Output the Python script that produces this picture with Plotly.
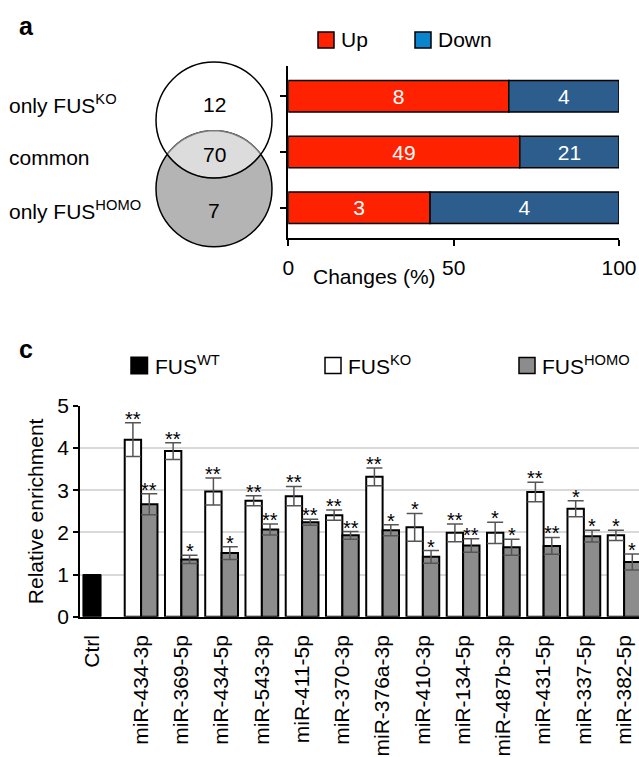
import numpy as np
import plotly.graph_objects as go

# ---------------- data ----------------
# panel a
venn_labels = ["only FUS<sup>KO</sup>", "common", "only FUS<sup>HOMO</sup>"]
venn_counts = [12, 70, 7]
up_counts = [8, 49, 3]
down_counts = [4, 21, 4]
x_ticks_a = [0, 50, 100]

# panel c
ctrl_label = "Ctrl"
ctrl_value = [1.0]
mirnas = ["miR-434-3p", "miR-369-5p", "miR-434-5p", "miR-543-3p", "miR-411-5p",
          "miR-370-3p", "miR-376a-3p", "miR-410-3p", "miR-134-5p", "miR-487b-3p",
          "miR-431-5p", "miR-337-5p", "miR-382-5p"]
ko_values = [4.20, 3.93, 2.97, 2.75, 2.86, 2.41, 3.32, 2.12, 1.99, 1.99, 2.96, 2.56, 1.93]
ko_err = [0.40, 0.20, 0.32, 0.12, 0.23, 0.12, 0.21, 0.33, 0.21, 0.25, 0.23, 0.19, 0.12]
homo_values = [2.67, 1.36, 1.51, 2.07, 2.24, 1.93, 2.05, 1.42, 1.69, 1.65, 1.68, 1.91, 1.30]
homo_err = [0.25, 0.10, 0.15, 0.13, 0.07, 0.09, 0.13, 0.15, 0.16, 0.19, 0.20, 0.14, 0.19]
ko_sig = ["**", "**", "**", "**", "**", "**", "**", "*", "**", "*", "**", "*", "*"]
homo_sig = ["**", "*", "*", "**", "**", "**", "*", "*", "**", "*", "**", "*", "*"]
y_ticks_c = [0, 1, 2, 3, 4, 5]

# ---------------- layout helpers ----------------
W, H = 639, 757
FONT = "Liberation Sans, Arial, Helvetica, sans-serif"
RED = "#ff2200"
BLUE = "#2c5d8c"
BLUE_LEG = "#0a84cc"
GRAY = "#8c8c8c"


def PX(px):
    return px / W


def PY(py):
    return 1 - py / H


fig = go.Figure()

# ---------- panel a: stacked percentage bars ----------
totals = [u + d for u, d in zip(up_counts, down_counts)]
up_pct = [100 * u / t for u, t in zip(up_counts, totals)]
down_pct = [100 * d / t for d, t in zip(down_counts, totals)]
rows = list(range(len(up_counts)))

fig.add_trace(go.Bar(
    y=rows, x=up_pct, base=[0] * len(rows), orientation="h", width=0.565,
    marker=dict(color=RED, line=dict(color="black", width=1.5)),
    text=[str(v) for v in up_counts], textposition="inside", insidetextanchor="middle",
    textangle=0, textfont=dict(color="white", size=21, family=FONT),
    xaxis="x", yaxis="y", showlegend=False, hoverinfo="skip"))
fig.add_trace(go.Bar(
    y=rows, x=down_pct, base=up_pct, orientation="h", width=0.565,
    marker=dict(color=BLUE, line=dict(color="black", width=1.5)),
    text=[str(v) for v in down_counts], textposition="inside", insidetextanchor="middle",
    textangle=0, textfont=dict(color="white", size=21, family=FONT),
    xaxis="x", yaxis="y", showlegend=False, hoverinfo="skip"))

# ---------- panel c: grouped bars ----------
ctrl_gap = 1.22
bar_w = 0.407
ctrl_x = [0.0]
mir_x = [ctrl_gap + i for i in range(len(mirnas))]

fig.add_trace(go.Bar(
    x=ctrl_x, y=ctrl_value, width=0.45, offset=-0.225,
    marker=dict(color="black", line=dict(color="black", width=1)),
    xaxis="x2", yaxis="y2", showlegend=False, hoverinfo="skip"))
fig.add_trace(go.Bar(
    x=mir_x, y=ko_values, width=bar_w, offset=-bar_w,
    marker=dict(color="white", line=dict(color="black", width=2)),
    error_y=dict(type="data", array=ko_err, color="#555555", thickness=1.5, width=8),
    xaxis="x2", yaxis="y2", showlegend=False, hoverinfo="skip"))
fig.add_trace(go.Bar(
    x=mir_x, y=homo_values, width=bar_w, offset=0,
    marker=dict(color=GRAY, line=dict(color="black", width=2)),
    error_y=dict(type="data", array=homo_err, color="#555555", thickness=1.5, width=8),
    xaxis="x2", yaxis="y2", showlegend=False, hoverinfo="skip"))

# invisible trace to anchor the venn axes
fig.add_trace(go.Scatter(x=[0], y=[0], mode="markers", marker=dict(opacity=0),
                         xaxis="x3", yaxis="y3", showlegend=False, hoverinfo="skip"))

annotations = []
shapes = []

# significance stars
for xs, vals, errs, sig, dx in [(mir_x, ko_values, ko_err, ko_sig, -bar_w / 2),
                                (mir_x, homo_values, homo_err, homo_sig, bar_w / 2)]:
    for x, v, e, s in zip(xs, vals, errs, sig):
        annotations.append(dict(x=x + dx, y=v + e, xref="x2", yref="y2", text=s,
                                showarrow=False, yanchor="bottom", yshift=-9,
                                font=dict(size=20, family=FONT, color="black")))

# ---------- venn diagram (unit circles) ----------
r = 1.0
a = 0.592
shapes.append(dict(type="circle", xref="x3", yref="y3", x0=-r, x1=r, y0=-a - r, y1=-a + r,
                   fillcolor="#b4b4b4", line=dict(color="black", width=1.5), layer="above"))
t0 = np.arcsin(a / r)
t = np.linspace(t0, np.pi - t0, 60)
upper = [(r * np.cos(tt), -a + r * np.sin(tt)) for tt in t]
lower = [(r * np.cos(tt), a - r * np.sin(tt)) for tt in t[::-1]]
pts = upper + lower
path = "M " + " L ".join(f"{px:.4f},{py:.4f}" for px, py in pts) + " Z"
shapes.append(dict(type="path", xref="x3", yref="y3", path=path, fillcolor="#dcdcdc",
                   line=dict(color="#7a7a7a", width=1.5), layer="above"))
shapes.append(dict(type="circle", xref="x3", yref="y3", x0=-r, x1=r, y0=a - r, y1=a + r,
                   fillcolor="rgba(0,0,0,0)", line=dict(color="black", width=1.5), layer="above"))

venn_text_y = [0.868, 0.0, -0.96]
for cnt, ty in zip(venn_counts, venn_text_y):
    annotations.append(dict(x=0, y=ty, xref="x3", yref="y3", text=str(cnt), showarrow=False,
                            font=dict(size=21, family=FONT, color="black")))
label_py = [104, 157, 210]
for lab, py in zip(venn_labels, label_py):
    annotations.append(dict(x=PX(7), y=PY(py), xref="paper", yref="paper", text=lab,
                            showarrow=False, xanchor="left", yanchor="middle",
                            font=dict(size=21, family=FONT, color="black")))

# panel letters
annotations.append(dict(x=PX(17), y=PY(26), xref="paper", yref="paper", text="<b>a</b>",
                        showarrow=False, xanchor="left", yanchor="middle",
                        font=dict(size=25, family=FONT, color="black")))
annotations.append(dict(x=PX(17), y=PY(349), xref="paper", yref="paper", text="<b>c</b>",
                        showarrow=False, xanchor="left", yanchor="middle",
                        font=dict(size=25, family=FONT, color="black")))

# panel a x title
annotations.append(dict(x=PX(374), y=PY(276), xref="paper", yref="paper", text="Changes (%)",
                        showarrow=False, xanchor="center", yanchor="middle",
                        font=dict(size=21, family=FONT, color="black")))

# legends (manual)
def legend_item(x0, yc, size, fill, text, border=1.5):
    shapes.append(dict(type="rect", xref="paper", yref="paper",
                       x0=PX(x0), x1=PX(x0 + size), y0=PY(yc + size / 2), y1=PY(yc - size / 2),
                       fillcolor=fill, line=dict(color="black", width=border), layer="above"))
    annotations.append(dict(x=PX(x0 + size + 5), y=PY(yc), xref="paper", yref="paper",
                            text=text, showarrow=False, xanchor="left", yanchor="middle",
                            font=dict(size=21, family=FONT, color="black")))

legend_item(318, 40, 16, RED, "Up")
legend_item(415, 40, 16, BLUE_LEG, "Down")
legend_item(131, 365.5, 16.5, "black", "FUS<sup>WT</sup>")
legend_item(325, 365.5, 16, "white", "FUS<sup>KO</sup>")
legend_item(519, 365.5, 16, GRAY, "FUS<sup>HOMO</sup>")

fig.update_layout(
    width=W, height=H, autosize=False,
    margin=dict(l=0, r=0, t=0, b=0, pad=0),
    paper_bgcolor="white", plot_bgcolor="rgba(0,0,0,0)",
    barmode="overlay",
    font=dict(family=FONT, size=21, color="black"),
    showlegend=False,
    shapes=shapes, annotations=annotations,
    xaxis=dict(domain=[PX(288.3), PX(619)], range=[0, 100], tickvals=x_ticks_a,
               ticks="outside", ticklen=6, tickwidth=1.5, tickcolor="black",
               showline=True, linecolor="black", linewidth=1.5, showgrid=False,
               zeroline=False, tickfont=dict(size=21), anchor="y",
               ticklabelstandoff=4, automargin=False),
    yaxis=dict(domain=[PY(238.3), PY(65.7)], range=[2.55, -0.55], tickvals=rows,
               showticklabels=False, ticks="outside", ticklen=7, tickwidth=1.5,
               tickcolor="black", showline=True, linecolor="black", linewidth=1.5,
               showgrid=False, zeroline=False, anchor="x", automargin=False),
    xaxis2=dict(domain=[PX(80), 1], range=[-0.298, 13.59],
                tickvals=ctrl_x + mir_x, ticktext=[ctrl_label] + mirnas, tickangle=-90,
                ticks="", showline=True, linecolor="black", linewidth=2, showgrid=False,
                zeroline=False, tickfont=dict(size=21), anchor="y2",
                ticklabelstandoff=8, automargin=False),
    yaxis2=dict(domain=[PY(616.7), PY(406)], range=[0, 5], tickvals=y_ticks_c,
                ticks="outside", ticklen=5, tickwidth=1.5, tickcolor="black",
                showline=True, linecolor="black", linewidth=1.5,
                showgrid=True, gridcolor="#d9d9d9", gridwidth=1.5, zeroline=False,
                tickfont=dict(size=21), anchor="x2", automargin=False,
                title=dict(text="Relative enrichment", font=dict(size=21), standoff=8)),
    xaxis3=dict(domain=[PX(150), PX(278)], range=[-64 / 58, 64 / 58], visible=False,
                anchor="y3", fixedrange=True, automargin=False),
    yaxis3=dict(domain=[PY(250), PY(58)], range=[(154.35 - 250) / 58, (154.35 - 58) / 58],
                visible=False, anchor="x3", fixedrange=True, automargin=False),
)

fig.write_html("out.html", config={"displayModeBar": False},
               post_script="document.body.style.margin='0';document.body.style.padding='0';"
                           "document.body.style.overflow='hidden';")
